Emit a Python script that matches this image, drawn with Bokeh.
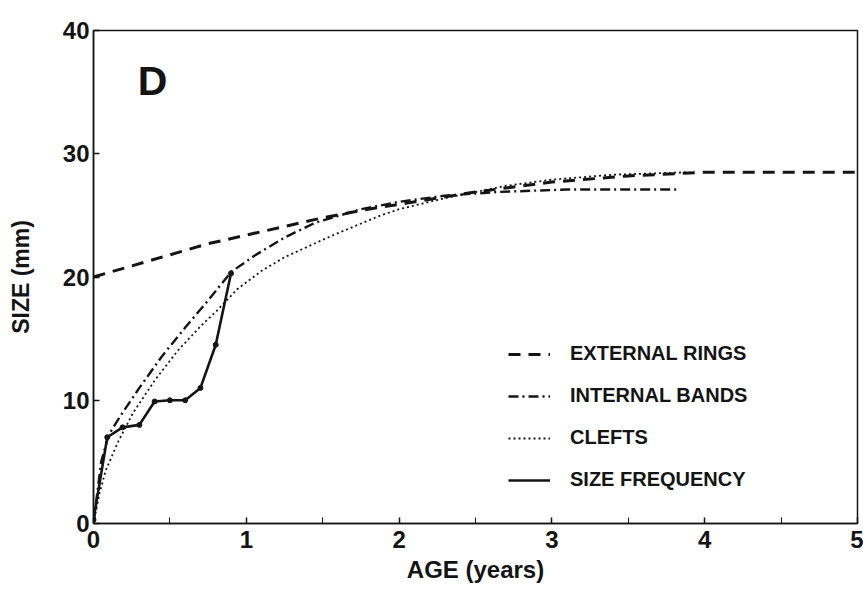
from bokeh.plotting import figure
from bokeh.models import Range1d, Legend, LegendItem, Label, FixedTicker
from bokeh.embed import file_html
from bokeh.resources import INLINE

# ---- data ----
ext_x = [0, 0.25, 0.5, 0.75, 1.0, 1.25, 1.5, 1.75, 2.0, 2.5, 3.0, 3.5, 4.0, 4.5, 5.0]
ext_y = [20.0, 20.9, 21.8, 22.7, 23.4, 24.1, 24.8, 25.4, 25.9, 26.9, 27.7, 28.2, 28.5, 28.5, 28.5]

int_x = [0, 0.05, 0.1, 0.18, 0.3, 0.45, 0.6, 0.75, 0.9, 1.05, 1.25, 1.45, 1.75, 2.0, 2.3, 2.65, 3.1, 3.5, 3.82]
int_y = [0, 5.0, 7.2, 8.8, 11.0, 13.6, 15.9, 18.1, 20.4, 21.7, 23.2, 24.4, 25.5, 26.1, 26.6, 26.9, 27.1, 27.1, 27.1]

clf_x = [0, 0.04, 0.08, 0.16, 0.26, 0.4, 0.55, 0.7, 0.81, 0.94, 1.1, 1.25, 1.55, 1.88, 2.0, 2.3, 2.7, 3.0, 3.4, 3.9]
clf_y = [0, 2.5, 4.3, 6.6, 9.0, 11.6, 14.0, 16.0, 17.3, 19.0, 20.5, 21.6, 23.3, 25.0, 25.5, 26.4, 27.4, 27.9, 28.3, 28.5]

sf_x = [0, 0.09, 0.19, 0.3, 0.4, 0.5, 0.6, 0.7, 0.8, 0.9]
sf_y = [0.3, 7.0, 7.8, 8.0, 9.9, 10.0, 10.0, 11.0, 14.5, 20.3]

x_ticks = [0, 1, 2, 3, 4, 5]
y_ticks = [0, 10, 20, 30, 40]
x_minor = [0.5, 1.5, 2.5, 3.5, 4.5]

legend_labels = ["EXTERNAL RINGS", "INTERNAL BANDS", "CLEFTS", "SIZE FREQUENCY"]
panel_letter = "D"
panel_pos = (0.29, 35.9)

FONT = "Liberation Sans"
INK = "#141414"

p = figure(width=863, height=592, output_backend="svg", toolbar_location=None,
           x_range=Range1d(0, 5), y_range=Range1d(0, 40),
           min_border_left=93, min_border_right=6, min_border_top=30, min_border_bottom=69)
p.background_fill_color = "white"
p.border_fill_color = "white"
p.outline_line_color = INK
p.outline_line_width = 1.5
p.xgrid.visible = False
p.ygrid.visible = False

for ax in (p.xaxis[0], p.yaxis[0]):
    ax.axis_line_color = INK
    ax.axis_line_width = 1.5
    ax.major_tick_line_color = INK
    ax.major_tick_line_width = 1.5
    ax.major_tick_in = 6
    ax.major_tick_out = 0
    ax.minor_tick_line_color = INK
    ax.minor_tick_in = 6
    ax.minor_tick_out = 0
    ax.major_label_text_font = FONT
    ax.major_label_text_font_style = "bold"
    ax.major_label_text_font_size = "24px"
    ax.major_label_text_color = INK
    ax.axis_label_text_font = FONT
    ax.axis_label_text_font_style = "bold"
    ax.axis_label_text_color = INK

p.xaxis.ticker = FixedTicker(ticks=x_ticks, minor_ticks=x_minor)
p.yaxis.ticker = FixedTicker(ticks=y_ticks, minor_ticks=[])
p.xaxis.axis_label = "AGE (years)"
p.yaxis.axis_label = "SIZE (mm)"
p.xaxis.axis_label_text_font_size = "24px"
p.yaxis.axis_label_text_font_size = "23px"
p.xaxis.major_label_standoff = 7
p.yaxis.major_label_standoff = 4
p.xaxis.axis_label_standoff = 5
p.yaxis.axis_label_standoff = 26

r_ext = p.line(ext_x, ext_y, line_color=INK, line_width=3, line_dash="12 8")
r_int = p.line(int_x, int_y, line_color=INK, line_width=2.4, line_dash="10 4 2 4")
r_clf = p.line(clf_x, clf_y, line_color=INK, line_width=1.8, line_dash="2 3")
r_sf = p.line(sf_x, sf_y, line_color=INK, line_width=2.6)
r_sfp = p.scatter(sf_x, sf_y, size=5, color=INK)

p.add_layout(Label(x=panel_pos[0], y=panel_pos[1], text=panel_letter, text_font=FONT,
                   text_font_style="bold", text_font_size="41px", text_color=INK,
                   text_baseline="middle", text_align="left"))

legend = Legend(items=[LegendItem(label=legend_labels[0], renderers=[r_ext]),
                       LegendItem(label=legend_labels[1], renderers=[r_int]),
                       LegendItem(label=legend_labels[2], renderers=[r_clf]),
                       LegendItem(label=legend_labels[3], renderers=[r_sf])],
                location=(415, 32), orientation="vertical")
legend.border_line_color = None
legend.background_fill_alpha = 0
legend.label_text_font = FONT
legend.label_text_font_style = "bold"
legend.label_text_font_size = "20px"
legend.label_text_color = INK
legend.glyph_width = 42
legend.glyph_height = 20
legend.label_height = 20
legend.label_standoff = 20
legend.spacing = 19
legend.padding = 0
legend.margin = 0
p.add_layout(legend, "center")

open("out.html", "w").write(file_html(p, INLINE))
